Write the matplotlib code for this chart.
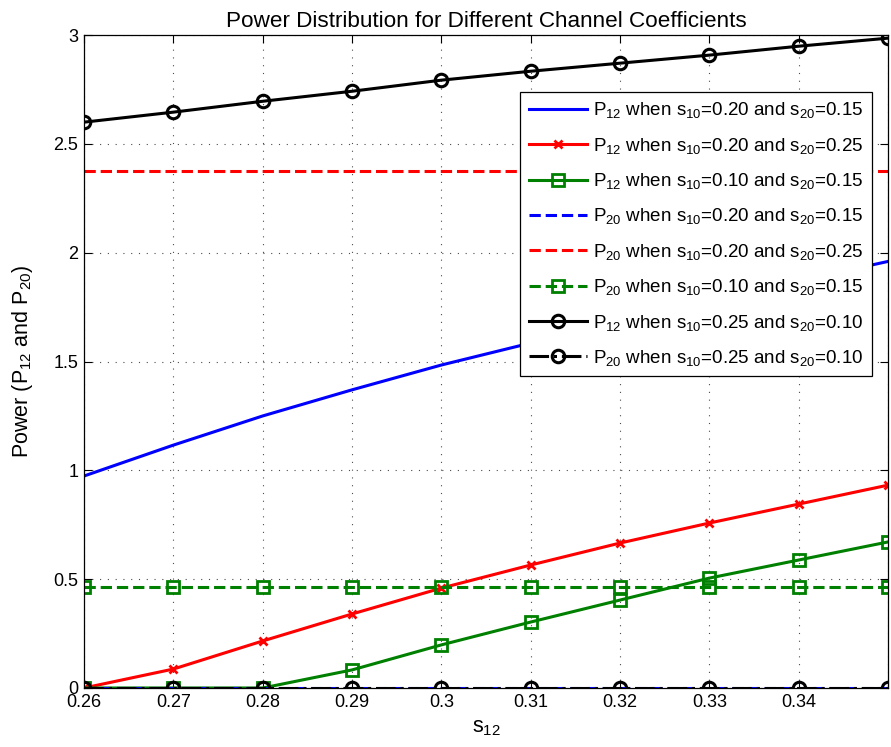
import matplotlib
matplotlib.use('Agg')
import matplotlib.pyplot as plt

plt.rcParams['font.family'] = ['Liberation Sans', 'DejaVu Sans']
plt.rcParams['mathtext.default'] = 'regular'

# data
s12 = [0.26, 0.27, 0.28, 0.29, 0.30, 0.31, 0.32, 0.33, 0.34, 0.35]

p12_a = [0.974, 1.116, 1.25, 1.37, 1.484, 1.585, 1.68, 1.78, 1.87, 1.96]   # s10=0.20, s20=0.15
p12_b = [0.0, 0.087, 0.216, 0.34, 0.459, 0.565, 0.666, 0.758, 0.845, 0.932]  # s10=0.20, s20=0.25
p12_c = [0.0, 0.0, 0.0, 0.083, 0.198, 0.303, 0.404, 0.505, 0.588, 0.671]     # s10=0.10, s20=0.15
p20_a = [0.0] * 10
p20_b = [2.377] * 10
p20_c = [0.464] * 10
p12_d = [2.60, 2.646, 2.696, 2.742, 2.793, 2.834, 2.871, 2.908, 2.949, 2.986]  # s10=0.25, s20=0.10
p20_d = [0.0] * 10

xticks = [0.26, 0.27, 0.28, 0.29, 0.30, 0.31, 0.32, 0.33, 0.34, 0.35]
xlabels = ['0.26', '0.27', '0.28', '0.29', '0.3', '0.31', '0.32', '0.33', '0.34', '']
yticks = [0, 0.5, 1, 1.5, 2, 2.5, 3]
ylabels = ['0', '0.5', '1', '1.5', '2', '2.5', '3']

green = '#008000'

fig = plt.figure(figsize=(8.91, 7.47), dpi=100)
ax = fig.add_axes([0.0943, 0.079, 0.9023, 0.874])

lw = 2.2
ax.plot(s12, p12_a, '-', color='b', lw=lw,
        label='P$_{12}$ when s$_{10}$=0.20 and s$_{20}$=0.15')
ax.plot(s12, p12_b, '-x', color='r', lw=lw, ms=6, mew=2,
        label='P$_{12}$ when s$_{10}$=0.20 and s$_{20}$=0.25')
ax.plot(s12, p12_c, '-s', color=green, lw=lw, ms=8.5, mew=2, mfc='none',
        label='P$_{12}$ when s$_{10}$=0.10 and s$_{20}$=0.15')
ax.plot(s12, p20_a, '--', color='b', lw=lw,
        label='P$_{20}$ when s$_{10}$=0.20 and s$_{20}$=0.15')
ax.plot(s12, p20_b, '--', color='r', lw=lw,
        label='P$_{20}$ when s$_{10}$=0.20 and s$_{20}$=0.25')
ax.plot(s12, p20_c, '--s', color=green, lw=lw, ms=8.5, mew=2, mfc='none',
        label='P$_{20}$ when s$_{10}$=0.10 and s$_{20}$=0.15')
ax.plot(s12, p12_d, '-o', color='k', lw=lw, ms=9, mew=2.2, mfc='none',
        label='P$_{12}$ when s$_{10}$=0.25 and s$_{20}$=0.10')
ax.plot(s12, p20_d, '-.o', color='k', lw=lw, ms=9, mew=2.2, mfc='none',
        label='P$_{20}$ when s$_{10}$=0.25 and s$_{20}$=0.10')

ax.set_xlim(0.26, 0.35)
ax.set_ylim(0, 3)
ax.set_xticks(xticks)
ax.set_xticklabels(xlabels)
ax.set_yticks(yticks)
ax.set_yticklabels(ylabels)
ax.tick_params(direction='in', length=6, width=0.8, top=True, right=True,
               labelsize=13, pad=4)
ax.grid(True, color='k', linestyle=(0, (1, 6)), linewidth=0.8, alpha=0.7)
for sp in ax.spines.values():
    sp.set_linewidth(0.9)

ax.set_title('Power Distribution for Different Channel Coefficients', fontsize=16.2, pad=6)
ax.set_xlabel('s$_{12}$', fontsize=15.5, labelpad=5)
ax.set_ylabel('Power (P$_{12}$ and P$_{20}$)', fontsize=15.5, labelpad=13)

leg = ax.legend(loc='upper right', bbox_to_anchor=(0.980, 0.913), borderaxespad=0,
                fontsize=13.5, numpoints=1, handlelength=3.1, handletextpad=0.35,
                labelspacing=0.82, borderpad=0.45, fancybox=False,
                framealpha=1, edgecolor='k')
leg.get_frame().set_linewidth(0.9)

fig.savefig('out.png', dpi=100)
